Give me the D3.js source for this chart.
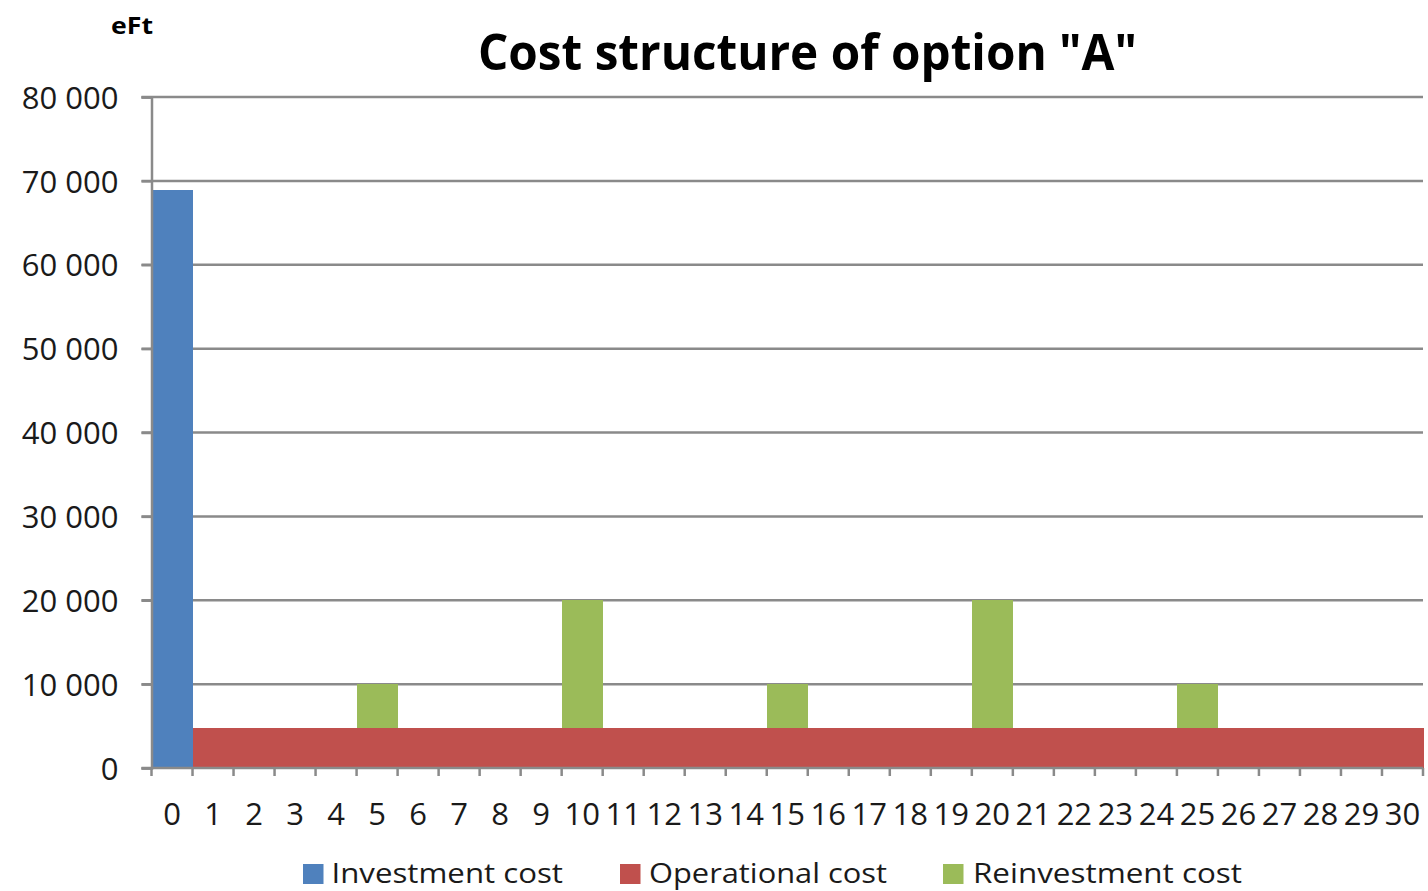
<!DOCTYPE html>
<html>
<head>
<meta charset="utf-8">
<script src="https://cdn.jsdelivr.net/npm/d3@7"></script>
<style>
  html, body { margin: 0; padding: 0; background: #ffffff; }
  svg { display: block; }
</style>
</head>
<body>
<svg id="chart" width="1428" height="891"></svg>
<script>
// Years of the option's life cycle
const years = [0, 1, 2, 3, 4, 5, 6, 7, 8, 9, 10, 11, 12, 13, 14, 15, 16, 17, 18, 19, 20, 21, 22, 23, 24, 25, 26, 27, 28, 29, 30];

// Cost components per year (eFt)
const investmentCost   = [68900, 0, 0, 0, 0, 0, 0, 0, 0, 0, 0, 0, 0, 0, 0, 0, 0, 0, 0, 0, 0, 0, 0, 0, 0, 0, 0, 0, 0, 0, 0];
const operationalCost  = [0, 4800, 4800, 4800, 4800, 4800, 4800, 4800, 4800, 4800, 4800, 4800, 4800, 4800, 4800, 4800, 4800, 4800, 4800, 4800, 4800, 4800, 4800, 4800, 4800, 4800, 4800, 4800, 4800, 4800, 4800];
const reinvestmentCost = [0, 0, 0, 0, 0, 5200, 0, 0, 0, 0, 15200, 0, 0, 0, 0, 5200, 0, 0, 0, 0, 15200, 0, 0, 0, 0, 5200, 0, 0, 0, 0, 0];

const seriesNames = ["Investment cost", "Operational cost", "Reinvestment cost"];
const yTicks = [0, 10000, 20000, 30000, 40000, 50000, 60000, 70000, 80000];

const colors = ["#4F81BD", "#C0504D", "#9BBB59"];
const gridColor = "#8a8a8a";

const svg = d3.select("#chart");
const plotLeft = 151.5, plotRight = 1423, plotTop = 97, plotBottom = 768;

const x = d3.scaleBand().domain(years).range([plotLeft, plotRight]).padding(0);
const y = d3.scaleLinear().domain([0, 80000]).range([plotBottom, plotTop]);

const table = years.map((yr, i) => ({
  year: yr,
  "Investment cost": investmentCost[i],
  "Operational cost": operationalCost[i],
  "Reinvestment cost": reinvestmentCost[i]
}));
const stacked = d3.stack().keys(seriesNames)(table);

// Horizontal gridlines
svg.append("g")
  .selectAll("line")
  .data(yTicks.filter(v => v > 0))
  .join("line")
  .attr("x1", plotLeft - 10)
  .attr("x2", plotRight)
  .attr("y1", d => y(d))
  .attr("y2", d => y(d))
  .attr("stroke", gridColor)
  .attr("stroke-width", 2.5);

// Stacked bars (bars touch each other, so draw them without edge smoothing)
svg.append("g")
  .attr("shape-rendering", "crispEdges")
  .selectAll("g")
  .data(stacked)
  .join("g")
  .attr("fill", (d, i) => colors[i])
  .selectAll("rect")
  .data(d => d.filter(p => p[1] - p[0] > 0))
  .join("rect")
  .attr("x", d => x(d.data.year))
  .attr("width", x.bandwidth() + 0.5)
  .attr("y", d => y(d[1]))
  .attr("height", d => y(d[0]) - y(d[1]));

// Y axis
const yAxis = svg.append("g")
  .attr("transform", `translate(${plotLeft},0)`)
  .call(d3.axisLeft(y).tickValues(yTicks).tickSize(10).tickPadding(23)
    .tickFormat(d => d3.format(",")(d).replace(/,/g, " ")));
yAxis.select(".domain").attr("stroke", gridColor).attr("stroke-width", 2.5);
yAxis.selectAll(".tick line").attr("stroke", gridColor).attr("stroke-width", 2.5);
yAxis.selectAll(".tick text")
  .attr("font-family", "'Open Sans', sans-serif")
  .attr("font-size", 31)
  .attr("fill", "#1a1a1a")
  .attr("dy", "0.36em");

// X axis line and ticks at band boundaries
const xAxis = svg.append("g");
xAxis.append("line")
  .attr("x1", plotLeft - 10).attr("x2", plotRight)
  .attr("y1", plotBottom).attr("y2", plotBottom)
  .attr("stroke", gridColor).attr("stroke-width", 2.5);
const boundaries = years.map(yr => x(yr)).concat([plotRight]);
xAxis.selectAll("line.tk")
  .data(boundaries)
  .join("line")
  .attr("class", "tk")
  .attr("x1", d => d).attr("x2", d => d)
  .attr("y1", plotBottom).attr("y2", plotBottom + 8)
  .attr("stroke", gridColor).attr("stroke-width", 2.5);
xAxis.selectAll("text")
  .data(years)
  .join("text")
  .attr("x", d => x(d) + x.bandwidth() / 2)
  .attr("y", 825)
  .attr("text-anchor", "middle")
  .attr("font-family", "'Open Sans', sans-serif")
  .attr("font-size", 31)
  .attr("fill", "#1a1a1a")
  .text(d => d);

// Title and unit label
svg.append("text")
  .attr("x", 478).attr("y", 70)
  .attr("font-family", "'Open Sans', sans-serif")
  .attr("font-weight", "bold")
  .attr("font-size", 50)
  .attr("textLength", 659)
  .attr("lengthAdjust", "spacingAndGlyphs")
  .attr("fill", "#000")
  .text('Cost structure of option "A"');

svg.append("text")
  .attr("x", 111).attr("y", 34)
  .attr("font-family", "'Open Sans', sans-serif")
  .attr("font-weight", "bold")
  .attr("font-size", 23)
  .attr("textLength", 42)
  .attr("lengthAdjust", "spacingAndGlyphs")
  .attr("fill", "#000")
  .text("eFt");

// Legend
const legendItems = [
  { name: seriesNames[0], sx: 303, tx: 331.5, tw: 231.5 },
  { name: seriesNames[1], sx: 620, tx: 649, tw: 238 },
  { name: seriesNames[2], sx: 943, tx: 973, tw: 269 }
];
const legend = svg.append("g");
legend.selectAll("rect")
  .data(legendItems)
  .join("rect")
  .attr("x", d => d.sx).attr("y", 864)
  .attr("width", 20.5).attr("height", 20)
  .attr("fill", (d, i) => colors[i]);
legend.selectAll("text")
  .data(legendItems)
  .join("text")
  .attr("x", d => d.tx).attr("y", 883)
  .attr("font-family", "'Open Sans', sans-serif")
  .attr("font-size", 28)
  .attr("textLength", d => d.tw)
  .attr("lengthAdjust", "spacingAndGlyphs")
  .attr("fill", "#1a1a1a")
  .text(d => d.name);
</script>
</body>
</html>
